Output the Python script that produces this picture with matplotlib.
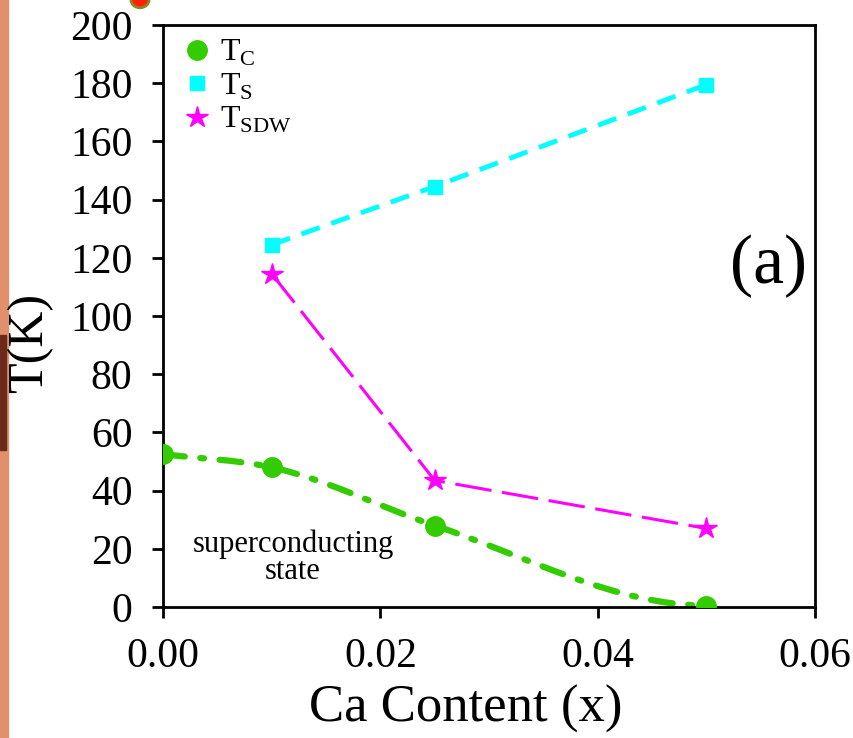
import matplotlib
import matplotlib.pyplot as plt
from matplotlib.path import Path
from matplotlib.patches import PathPatch, Rectangle, Circle

matplotlib.use('Agg')

plt.rcParams['font.family'] = ['Liberation Serif', 'DejaVu Serif']
plt.rcParams['mathtext.fontset'] = 'custom'
plt.rcParams['mathtext.rm'] = 'Liberation Serif'

# data
x_tc = [0.0, 0.01, 0.025, 0.05]
t_c = [52.5, 48.0, 28.0, 0.5]
x_ts = [0.01, 0.025, 0.05]
t_s = [124.5, 144.5, 179.5]
x_sdw = [0.01, 0.025, 0.05]
t_sdw = [114.5, 43.5, 27.0]

x_ticks = [0.00, 0.02, 0.04, 0.06]
x_ticklabels = ['0.00', '0.02', '0.04', '0.06']
y_ticks = list(range(0, 201, 20))

green = '#33cc00'
cyan = '#00ffff'
magenta = '#ff00ff'


def smooth_path(xs, ys):
    # smoothed line (Hermite segments as Bezier), flat at the last point
    n = len(xs)
    d = [(ys[i + 1] - ys[i]) / (xs[i + 1] - xs[i]) for i in range(n - 1)]
    m = [d[0]]
    for i in range(1, n - 1):
        h0 = xs[i] - xs[i - 1]
        h1 = xs[i + 1] - xs[i]
        m.append((h0 * d[i] + h1 * d[i - 1]) / (h0 + h1))
    m.append(0.0)
    verts = [(xs[0], ys[0])]
    codes = [Path.MOVETO]
    for i in range(n - 1):
        h = xs[i + 1] - xs[i]
        verts += [(xs[i] + h / 3, ys[i] + m[i] * h / 3),
                  (xs[i + 1] - h / 3, ys[i + 1] - m[i + 1] * h / 3),
                  (xs[i + 1], ys[i + 1])]
        codes += [Path.CURVE4] * 3
    return Path(verts, codes)


fig = plt.figure(figsize=(8.54, 7.38), dpi=100)
ax = fig.add_axes([163 / 854, 1 - 607 / 738, 652 / 854, 582 / 738])

# smoothed dash-dot Tc curve
ax.add_patch(PathPatch(smooth_path(x_tc, t_c), facecolor='none', edgecolor=green,
                       lw=4.5, linestyle=(0, (3.5, 2.5, 0.6, 2.5)), capstyle='round'))
ax.plot(x_tc, t_c, 'o', color=green, ms=14, label=r'T$_{\mathrm{C}}$', zorder=3)

ax.plot(x_ts, t_s, color=cyan, lw=3.5, ls=(0, (4, 2.5)), zorder=2)
ax.plot(x_ts, t_s, 's', color=cyan, ms=10, label=r'T$_{\mathrm{S}}$', zorder=3)

ax.plot(x_sdw, t_sdw, color=magenta, lw=2.2, ls=(0, (12, 3.5)), zorder=2)
ax.plot(x_sdw, t_sdw, '*', color=magenta, ms=16, label=r'T$_{\mathrm{SDW}}$', zorder=3)

ax.set_xlim(0, 0.06)
ax.set_ylim(0, 200)
ax.set_xticks(x_ticks)
ax.set_xticklabels(x_ticklabels)
ax.set_yticks(y_ticks)
ax.tick_params(direction='out', length=8, width=2, labelsize=30)
ax.tick_params(axis='y', pad=14)
ax.tick_params(axis='x', pad=14)
for sp in ax.spines.values():
    sp.set_linewidth(2)

fig.text(466 / 854, 1 - 722 / 738, 'Ca Content (x)', fontsize=38,
         ha='center', va='baseline')
fig.text(30 / 854, 1 - 343 / 738, 'T(K)', fontsize=36, rotation=90,
         ha='center', va='center')

fig.text(769 / 854, 1 - 266 / 738, '(a)', fontsize=50, ha='center', va='center')
ax.text(0.01196, 16.8, 'superconducting\nstate', ha='center', va='center',
        fontsize=22, linespacing=0.9)

leg = ax.legend(loc='upper left', frameon=False, fontsize=23, handletextpad=0.1,
                labelspacing=0.1, borderaxespad=0.1, handlelength=1.3,
                borderpad=0.3)

# slide background remnants at the edge
fig.patches.append(Rectangle((0, 0), 8 / 854, 1, transform=fig.transFigure,
                             color='#e0906a', zorder=0))
fig.patches.append(Rectangle((0, 1 - 450 / 738), 6 / 854, 115 / 738,
                             transform=fig.transFigure, color='#6b2a1c', zorder=1))
fig.patches.append(Circle((140 / 854, 1.0), 9 / 854, transform=fig.transFigure,
                          facecolor='#ff2000', edgecolor='#8a8a20', lw=2))

fig.savefig('out.png', dpi=100)
